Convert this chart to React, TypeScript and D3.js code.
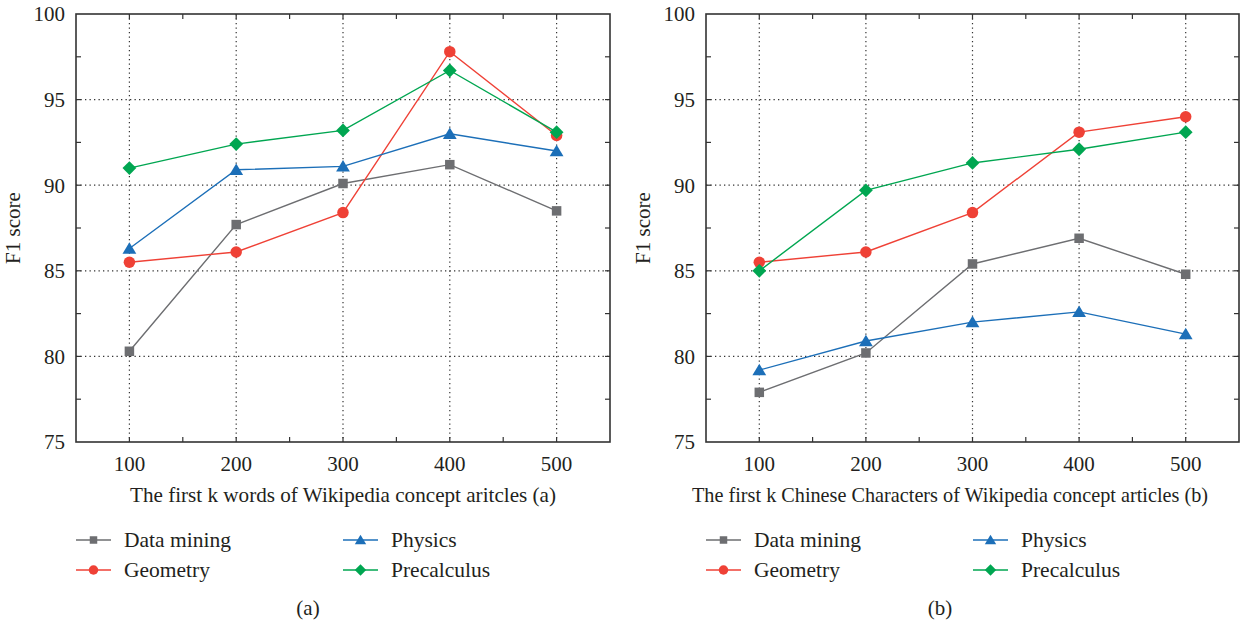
import * as d3 from 'd3';
import React, { useRef, useEffect } from 'react';

// x categories and y ticks
const categories = [100, 200, 300, 400, 500];
const yTicks = [75, 80, 85, 90, 95, 100];

const seriesNames = ['Data mining', 'Geometry', 'Physics', 'Precalculus'];
const seriesColors = ['#6d6e71', '#ef4136', '#1c6fb8', '#00a651'];
const seriesShapes = ['square', 'circle', 'triangle', 'diamond'];

// panel (a)
const dataMiningA = [80.3, 87.7, 90.1, 91.2, 88.5];
const geometryA = [85.5, 86.1, 88.4, 97.8, 92.9];
const physicsA = [86.3, 90.9, 91.1, 93.0, 92.0];
const precalculusA = [91.0, 92.4, 93.2, 96.7, 93.1];

// panel (b)
const dataMiningB = [77.9, 80.2, 85.4, 86.9, 84.8];
const geometryB = [85.5, 86.1, 88.4, 93.1, 94.0];
const physicsB = [79.2, 80.9, 82.0, 82.6, 81.3];
const precalculusB = [85.0, 89.7, 91.3, 92.1, 93.1];

const xLabelA = 'The first k words of Wikipedia concept aritcles (a)';
const xLabelB = 'The first k Chinese Characters of Wikipedia concept articles (b)';

const FONT = '"Liberation Serif", "Times New Roman", serif';
const TEXT = '#231f20';

function markerPath(shape, size) {
    const s = size;
    if (shape === 'square') return `M${-s / 2},${-s / 2}h${s}v${s}h${-s}Z`;
    if (shape === 'circle') return d3.symbol(d3.symbolCircle, Math.PI * (s / 2) * (s / 2))();
    if (shape === 'triangle') return `M0,${-s * 0.55}L${s * 0.6},${s * 0.45}L${-s * 0.6},${s * 0.45}Z`;
    return `M0,${-s * 0.6}L${s * 0.6},0L0,${s * 0.6}L${-s * 0.6},0Z`;
}

function drawPanel(svg, left, right, series, opts) {
    const top = 14, bottom = 442;
    const x = d3.scaleLinear().domain([50, 550]).range([left, right]);
    const y = d3.scaleLinear().domain([75, 100]).range([bottom, top]);
    const g = svg.append('g');

    // dotted grid
    g.selectAll('.gx').data(categories).enter().append('line')
        .attr('x1', d => x(d)).attr('x2', d => x(d))
        .attr('y1', top).attr('y2', bottom)
        .attr('stroke', '#333').attr('stroke-width', 1.2)
        .attr('stroke-dasharray', '1.3,3.2');
    g.selectAll('.gy').data(yTicks.slice(1, -1)).enter().append('line')
        .attr('x1', left).attr('x2', right)
        .attr('y1', d => y(d)).attr('y2', d => y(d))
        .attr('stroke', '#333').attr('stroke-width', 1.2)
        .attr('stroke-dasharray', '1.3,3.2');

    // inward ticks on all four sides
    const xt = d3.range(100, 550, 50);
    const yt = d3.range(77.5, 100, 2.5);
    const tl = 5;
    xt.forEach(v => {
        g.append('line').attr('x1', x(v)).attr('x2', x(v)).attr('y1', bottom).attr('y2', bottom - tl)
            .attr('stroke', '#333').attr('stroke-width', 1.2);
        g.append('line').attr('x1', x(v)).attr('x2', x(v)).attr('y1', top).attr('y2', top + tl)
            .attr('stroke', '#333').attr('stroke-width', 1.2);
    });
    yt.forEach(v => {
        g.append('line').attr('x1', left).attr('x2', left + tl).attr('y1', y(v)).attr('y2', y(v))
            .attr('stroke', '#333').attr('stroke-width', 1.2);
        g.append('line').attr('x1', right).attr('x2', right - tl).attr('y1', y(v)).attr('y2', y(v))
            .attr('stroke', '#333').attr('stroke-width', 1.2);
    });

    g.append('rect')
        .attr('x', left).attr('y', top)
        .attr('width', right - left).attr('height', bottom - top)
        .attr('fill', 'none').attr('stroke', '#333').attr('stroke-width', 1.6);

    // tick labels
    g.selectAll('.ylab').data(yTicks).enter().append('text')
        .attr('x', left - 11).attr('y', d => y(d)).attr('dy', '0.35em')
        .attr('text-anchor', 'end').attr('font-family', FONT).attr('font-size', 21)
        .attr('fill', TEXT).text(d => d);
    g.selectAll('.xlab').data(categories).enter().append('text')
        .attr('x', d => x(d)).attr('y', bottom + 29)
        .attr('text-anchor', 'middle').attr('font-family', FONT).attr('font-size', 21)
        .attr('fill', TEXT).text(d => d);

    g.append('text')
        .attr('x', opts.labelX).attr('y', 502)
        .attr('textLength', opts.labelLen).attr('lengthAdjust', 'spacingAndGlyphs')
        .attr('font-family', FONT).attr('font-size', 21)
        .attr('fill', TEXT).text(opts.xLabel);
    g.append('text')
        .attr('transform', `translate(${opts.yLabelX},${(top + bottom) / 2}) rotate(-90)`)
        .attr('text-anchor', 'middle').attr('font-family', FONT).attr('font-size', 21)
        .attr('fill', TEXT).text('F1 score');

    // lines and markers
    const line = d3.line().x((d, i) => x(categories[i])).y(d => y(d));
    series.forEach((vals, si) => {
        g.append('path').attr('d', line(vals))
            .attr('fill', 'none').attr('stroke', seriesColors[si]).attr('stroke-width', 1.4);
        g.selectAll('.m' + si).data(vals).enter().append('path')
            .attr('d', markerPath(seriesShapes[si], si === 0 ? 9.5 : 11.5))
            .attr('transform', (d, i) => `translate(${x(categories[i])},${y(d)})`)
            .attr('fill', seriesColors[si]);
    });

    // legend
    const cols = [left, left + 267];
    seriesNames.forEach((name, si) => {
        const cx = cols[Math.floor(si / 2)];
        const cy = si % 2 === 0 ? 540 : 570;
        g.append('line').attr('x1', cx).attr('x2', cx + 35).attr('y1', cy).attr('y2', cy)
            .attr('stroke', seriesColors[si]).attr('stroke-width', 1.4);
        g.append('path').attr('d', markerPath(seriesShapes[si], si === 0 ? 7.5 : 9.5))
            .attr('transform', `translate(${cx + 17.5},${cy})`)
            .attr('fill', seriesColors[si]);
        g.append('text')
            .attr('x', cx + 48).attr('y', cy).attr('dy', '0.33em')
            .attr('font-family', FONT).attr('font-size', 21.5)
            .attr('fill', TEXT).text(name);
    });

    g.append('text')
        .attr('x', opts.captionX).attr('y', 608).attr('dy', '0.35em')
        .attr('text-anchor', 'middle').attr('font-family', FONT).attr('font-size', 21)
        .attr('fill', TEXT).text(opts.caption);
}

function Chart({ width, height }) {
    const ref = useRef(null);

    useEffect(() => {
        const svg = d3.select(ref.current);
        svg.selectAll('*').remove();
        drawPanel(svg, 76, 610, [dataMiningA, geometryA, physicsA, precalculusA],
            { xLabel: xLabelA, labelX: 130, labelLen: 426, caption: '(a)', captionX: 308, yLabelX: 20 });
        drawPanel(svg, 706, 1239, [dataMiningB, geometryB, physicsB, precalculusB],
            { xLabel: xLabelB, labelX: 692, labelLen: 516, caption: '(b)', captionX: 940, yLabelX: 650 });
    }, []);

    return (
        <svg ref={ref} width={width} height={height}
            style={{ position: 'absolute', left: 0, top: 0, background: '#fff' }} />
    );
}

export default function App() {
    return <Chart width={1253} height={627} />;
}
